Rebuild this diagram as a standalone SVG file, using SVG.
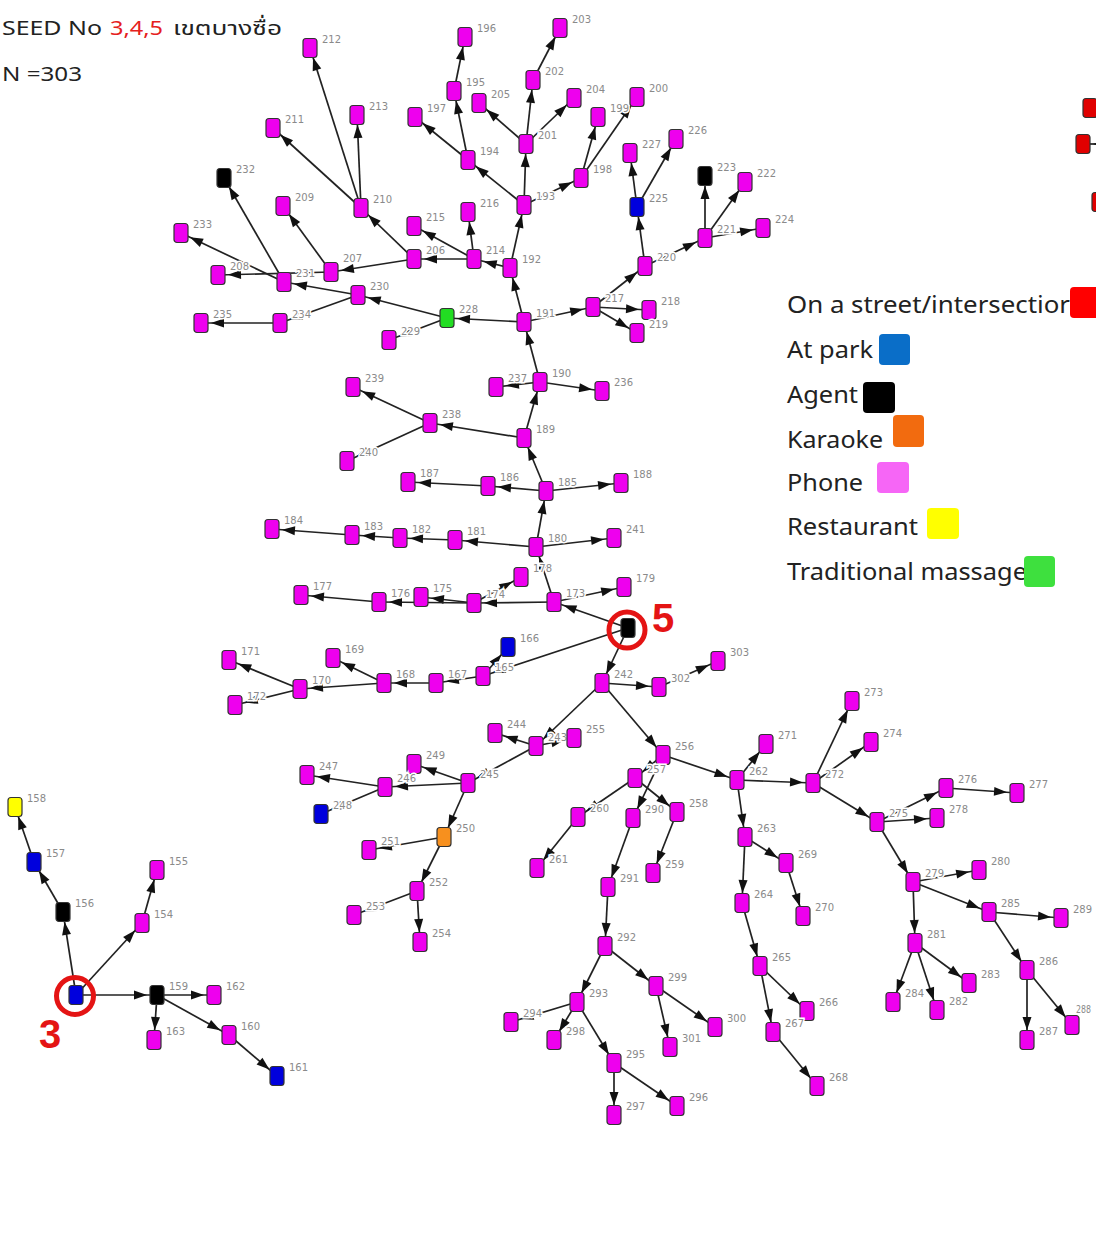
<svg xmlns="http://www.w3.org/2000/svg" xmlns:xlink="http://www.w3.org/1999/xlink" width="1096" height="1239" viewBox="0 0 1096 1239">
<style>
.nd use{stroke:#333;stroke-width:1.2}
.p{fill:#ee00ee}.b{fill:#0000dd}.k{fill:#000}.g{fill:#22dd22}.o{fill:#f7901e}.y{fill:#ffff00}.r{fill:#e00000}
.nd text{font-family:'DejaVu Sans',sans-serif;font-size:10px;fill:#8a8a8a;stroke:#fff;stroke-width:3;paint-order:stroke}
#edges line{stroke:#222;stroke-width:1.7;fill:none}
.lg{font-family:'Noto Sans','Open Sans',sans-serif;font-size:24px;fill:#222}
.ttl{font-family:'Noto Sans Thai','Noto Sans','DejaVu Sans',sans-serif;font-size:20px;fill:#222}
</style>
<defs>
<rect id="box" x="-7" y="-9.5" width="14" height="19" rx="3"/>
<marker id="ah" markerUnits="userSpaceOnUse" markerWidth="26" markerHeight="12" refX="23" refY="4.5" orient="auto" overflow="visible"><path d="M0,0 L13,4.5 L0,9 Z" fill="#111"/></marker>
</defs>
<rect width="1096" height="1239" fill="#fff"/>
<g id="title">
<text class="ttl" x="2" y="35" textLength="100" lengthAdjust="spacingAndGlyphs">SEED No</text>
<text class="ttl" x="110" y="35" textLength="53" lengthAdjust="spacingAndGlyphs" style="fill:#e52020">3,4,5</text>
<text class="ttl" x="173" y="35" textLength="109" lengthAdjust="spacingAndGlyphs">เขตบางซื่อ</text>
<text class="ttl" x="2" y="81" textLength="80" lengthAdjust="spacingAndGlyphs">N =303</text>
</g>
<g id="edges" marker-end="url(#ah)">
<line x1="76" y1="995" x2="63" y2="912"/>
<line x1="76" y1="995" x2="142" y2="923"/>
<line x1="76" y1="995" x2="157" y2="995"/>
<line x1="63" y1="912" x2="34" y2="862"/>
<line x1="34" y1="862" x2="15" y2="807"/>
<line x1="142" y1="923" x2="157" y2="870"/>
<line x1="157" y1="995" x2="214" y2="995"/>
<line x1="157" y1="995" x2="154" y2="1040"/>
<line x1="157" y1="995" x2="229" y2="1035"/>
<line x1="229" y1="1035" x2="277" y2="1076"/>
<line x1="628" y1="628" x2="554" y2="602"/>
<line x1="628" y1="628" x2="483" y2="676"/>
<line x1="628" y1="628" x2="602" y2="683"/>
<line x1="554" y1="602" x2="624" y2="587"/>
<line x1="554" y1="602" x2="474" y2="603"/>
<line x1="554" y1="602" x2="536" y2="547"/>
<line x1="474" y1="603" x2="521" y2="577"/>
<line x1="474" y1="603" x2="421" y2="597"/>
<line x1="474" y1="603" x2="379" y2="602"/>
<line x1="379" y1="602" x2="301" y2="595"/>
<line x1="536" y1="547" x2="455" y2="540"/>
<line x1="455" y1="540" x2="400" y2="538"/>
<line x1="400" y1="538" x2="352" y2="535"/>
<line x1="352" y1="535" x2="272" y2="529"/>
<line x1="536" y1="547" x2="614" y2="538"/>
<line x1="536" y1="547" x2="546" y2="491"/>
<line x1="546" y1="491" x2="488" y2="486"/>
<line x1="488" y1="486" x2="408" y2="482"/>
<line x1="546" y1="491" x2="621" y2="483"/>
<line x1="546" y1="491" x2="524" y2="438"/>
<line x1="524" y1="438" x2="430" y2="423"/>
<line x1="430" y1="423" x2="353" y2="387"/>
<line x1="430" y1="423" x2="347" y2="461"/>
<line x1="524" y1="438" x2="540" y2="382"/>
<line x1="540" y1="382" x2="496" y2="387"/>
<line x1="540" y1="382" x2="602" y2="391"/>
<line x1="540" y1="382" x2="524" y2="322"/>
<line x1="524" y1="322" x2="447" y2="318"/>
<line x1="447" y1="318" x2="358" y2="295"/>
<line x1="447" y1="318" x2="389" y2="340"/>
<line x1="358" y1="295" x2="284" y2="282"/>
<line x1="358" y1="295" x2="280" y2="323"/>
<line x1="280" y1="323" x2="201" y2="323"/>
<line x1="284" y1="282" x2="181" y2="233"/>
<line x1="284" y1="282" x2="224" y2="178"/>
<line x1="331" y1="272" x2="218" y2="275"/>
<line x1="524" y1="322" x2="510" y2="268"/>
<line x1="510" y1="268" x2="474" y2="259"/>
<line x1="474" y1="259" x2="414" y2="259"/>
<line x1="474" y1="259" x2="468" y2="212"/>
<line x1="474" y1="259" x2="414" y2="226"/>
<line x1="414" y1="259" x2="331" y2="272"/>
<line x1="414" y1="259" x2="361" y2="208"/>
<line x1="331" y1="272" x2="283" y2="206"/>
<line x1="361" y1="208" x2="273" y2="128"/>
<line x1="361" y1="208" x2="310" y2="48"/>
<line x1="361" y1="208" x2="357" y2="115"/>
<line x1="510" y1="268" x2="524" y2="205"/>
<line x1="524" y1="205" x2="468" y2="160"/>
<line x1="468" y1="160" x2="415" y2="117"/>
<line x1="468" y1="160" x2="454" y2="91"/>
<line x1="454" y1="91" x2="465" y2="37"/>
<line x1="524" y1="205" x2="526" y2="144"/>
<line x1="526" y1="144" x2="479" y2="103"/>
<line x1="526" y1="144" x2="533" y2="80"/>
<line x1="533" y1="80" x2="560" y2="28"/>
<line x1="526" y1="144" x2="574" y2="98"/>
<line x1="524" y1="205" x2="581" y2="178"/>
<line x1="581" y1="178" x2="598" y2="117"/>
<line x1="581" y1="178" x2="637" y2="97"/>
<line x1="524" y1="322" x2="593" y2="307"/>
<line x1="593" y1="307" x2="649" y2="310"/>
<line x1="593" y1="307" x2="637" y2="333"/>
<line x1="593" y1="307" x2="645" y2="266"/>
<line x1="645" y1="266" x2="637" y2="207"/>
<line x1="637" y1="207" x2="630" y2="153"/>
<line x1="637" y1="207" x2="676" y2="139"/>
<line x1="645" y1="266" x2="705" y2="238"/>
<line x1="705" y1="238" x2="705" y2="176"/>
<line x1="705" y1="238" x2="745" y2="182"/>
<line x1="705" y1="238" x2="763" y2="228"/>
<line x1="483" y1="676" x2="508" y2="647"/>
<line x1="483" y1="676" x2="436" y2="683"/>
<line x1="436" y1="683" x2="384" y2="683"/>
<line x1="384" y1="683" x2="333" y2="658"/>
<line x1="384" y1="683" x2="300" y2="689"/>
<line x1="300" y1="689" x2="229" y2="660"/>
<line x1="300" y1="689" x2="235" y2="705"/>
<line x1="602" y1="683" x2="659" y2="687"/>
<line x1="659" y1="687" x2="718" y2="661"/>
<line x1="602" y1="683" x2="536" y2="746"/>
<line x1="536" y1="746" x2="495" y2="733"/>
<line x1="536" y1="746" x2="574" y2="738"/>
<line x1="536" y1="746" x2="468" y2="783"/>
<line x1="468" y1="783" x2="414" y2="764"/>
<line x1="468" y1="783" x2="385" y2="787"/>
<line x1="385" y1="787" x2="307" y2="775"/>
<line x1="385" y1="787" x2="321" y2="814"/>
<line x1="468" y1="783" x2="444" y2="837"/>
<line x1="444" y1="837" x2="369" y2="850"/>
<line x1="444" y1="837" x2="417" y2="891"/>
<line x1="417" y1="891" x2="354" y2="915"/>
<line x1="417" y1="891" x2="420" y2="942"/>
<line x1="602" y1="683" x2="663" y2="755"/>
<line x1="663" y1="755" x2="635" y2="778"/>
<line x1="635" y1="778" x2="578" y2="817"/>
<line x1="578" y1="817" x2="537" y2="868"/>
<line x1="635" y1="778" x2="677" y2="812"/>
<line x1="677" y1="812" x2="653" y2="873"/>
<line x1="663" y1="755" x2="633" y2="818"/>
<line x1="633" y1="818" x2="608" y2="887"/>
<line x1="608" y1="887" x2="605" y2="946"/>
<line x1="605" y1="946" x2="577" y2="1002"/>
<line x1="577" y1="1002" x2="511" y2="1022"/>
<line x1="577" y1="1002" x2="554" y2="1040"/>
<line x1="577" y1="1002" x2="614" y2="1063"/>
<line x1="614" y1="1063" x2="614" y2="1115"/>
<line x1="614" y1="1063" x2="677" y2="1106"/>
<line x1="605" y1="946" x2="656" y2="986"/>
<line x1="656" y1="986" x2="670" y2="1047"/>
<line x1="656" y1="986" x2="715" y2="1027"/>
<line x1="663" y1="755" x2="737" y2="780"/>
<line x1="737" y1="780" x2="766" y2="744"/>
<line x1="737" y1="780" x2="813" y2="783"/>
<line x1="737" y1="780" x2="745" y2="837"/>
<line x1="745" y1="837" x2="742" y2="903"/>
<line x1="745" y1="837" x2="786" y2="863"/>
<line x1="786" y1="863" x2="803" y2="916"/>
<line x1="742" y1="903" x2="760" y2="966"/>
<line x1="760" y1="966" x2="807" y2="1011"/>
<line x1="760" y1="966" x2="773" y2="1032"/>
<line x1="773" y1="1032" x2="817" y2="1086"/>
<line x1="813" y1="783" x2="852" y2="701"/>
<line x1="813" y1="783" x2="871" y2="742"/>
<line x1="813" y1="783" x2="877" y2="822"/>
<line x1="877" y1="822" x2="946" y2="788"/>
<line x1="946" y1="788" x2="1017" y2="793"/>
<line x1="877" y1="822" x2="937" y2="818"/>
<line x1="877" y1="822" x2="913" y2="882"/>
<line x1="913" y1="882" x2="979" y2="870"/>
<line x1="913" y1="882" x2="989" y2="912"/>
<line x1="913" y1="882" x2="915" y2="943"/>
<line x1="915" y1="943" x2="893" y2="1002"/>
<line x1="915" y1="943" x2="937" y2="1010"/>
<line x1="915" y1="943" x2="969" y2="983"/>
<line x1="989" y1="912" x2="1061" y2="918"/>
<line x1="989" y1="912" x2="1027" y2="970"/>
<line x1="1027" y1="970" x2="1027" y2="1040"/>
<line x1="1027" y1="970" x2="1072" y2="1025"/>
<line x1="1112" y1="144" x2="1083" y2="144"/>
</g>
<g id="seeds" fill="none" stroke="#e41414" stroke-width="5">
<circle cx="75" cy="996" r="18.5"/>
<circle cx="627" cy="630" r="18"/>
</g>
<g id="nodes" class="nd">
<g id="n3" transform="translate(76,995)"><use href="#box" class="b"/></g>
<g id="n5" transform="translate(628,628)"><use href="#box" class="k"/></g>
<g id="n154" transform="translate(142,923)"><use href="#box" class="p"/><text x="12" y="-5">154</text></g>
<g id="n155" transform="translate(157,870)"><use href="#box" class="p"/><text x="12" y="-5">155</text></g>
<g id="n156" transform="translate(63,912)"><use href="#box" class="k"/><text x="12" y="-5">156</text></g>
<g id="n157" transform="translate(34,862)"><use href="#box" class="b"/><text x="12" y="-5">157</text></g>
<g id="n158" transform="translate(15,807)"><use href="#box" class="y"/><text x="12" y="-5">158</text></g>
<g id="n159" transform="translate(157,995)"><use href="#box" class="k"/><text x="12" y="-5">159</text></g>
<g id="n160" transform="translate(229,1035)"><use href="#box" class="p"/><text x="12" y="-5">160</text></g>
<g id="n161" transform="translate(277,1076)"><use href="#box" class="b"/><text x="12" y="-5">161</text></g>
<g id="n162" transform="translate(214,995)"><use href="#box" class="p"/><text x="12" y="-5">162</text></g>
<g id="n163" transform="translate(154,1040)"><use href="#box" class="p"/><text x="12" y="-5">163</text></g>
<g id="n165" transform="translate(483,676)"><use href="#box" class="p"/><text x="12" y="-5">165</text></g>
<g id="n166" transform="translate(508,647)"><use href="#box" class="b"/><text x="12" y="-5">166</text></g>
<g id="n167" transform="translate(436,683)"><use href="#box" class="p"/><text x="12" y="-5">167</text></g>
<g id="n168" transform="translate(384,683)"><use href="#box" class="p"/><text x="12" y="-5">168</text></g>
<g id="n169" transform="translate(333,658)"><use href="#box" class="p"/><text x="12" y="-5">169</text></g>
<g id="n170" transform="translate(300,689)"><use href="#box" class="p"/><text x="12" y="-5">170</text></g>
<g id="n171" transform="translate(229,660)"><use href="#box" class="p"/><text x="12" y="-5">171</text></g>
<g id="n172" transform="translate(235,705)"><use href="#box" class="p"/><text x="12" y="-5">172</text></g>
<g id="n173" transform="translate(554,602)"><use href="#box" class="p"/><text x="12" y="-5">173</text></g>
<g id="n174" transform="translate(474,603)"><use href="#box" class="p"/><text x="12" y="-5">174</text></g>
<g id="n175" transform="translate(421,597)"><use href="#box" class="p"/><text x="12" y="-5">175</text></g>
<g id="n176" transform="translate(379,602)"><use href="#box" class="p"/><text x="12" y="-5">176</text></g>
<g id="n177" transform="translate(301,595)"><use href="#box" class="p"/><text x="12" y="-5">177</text></g>
<g id="n178" transform="translate(521,577)"><use href="#box" class="p"/><text x="12" y="-5">178</text></g>
<g id="n179" transform="translate(624,587)"><use href="#box" class="p"/><text x="12" y="-5">179</text></g>
<g id="n180" transform="translate(536,547)"><use href="#box" class="p"/><text x="12" y="-5">180</text></g>
<g id="n181" transform="translate(455,540)"><use href="#box" class="p"/><text x="12" y="-5">181</text></g>
<g id="n182" transform="translate(400,538)"><use href="#box" class="p"/><text x="12" y="-5">182</text></g>
<g id="n183" transform="translate(352,535)"><use href="#box" class="p"/><text x="12" y="-5">183</text></g>
<g id="n184" transform="translate(272,529)"><use href="#box" class="p"/><text x="12" y="-5">184</text></g>
<g id="n241" transform="translate(614,538)"><use href="#box" class="p"/><text x="12" y="-5">241</text></g>
<g id="n185" transform="translate(546,491)"><use href="#box" class="p"/><text x="12" y="-5">185</text></g>
<g id="n186" transform="translate(488,486)"><use href="#box" class="p"/><text x="12" y="-5">186</text></g>
<g id="n187" transform="translate(408,482)"><use href="#box" class="p"/><text x="12" y="-5">187</text></g>
<g id="n188" transform="translate(621,483)"><use href="#box" class="p"/><text x="12" y="-5">188</text></g>
<g id="n189" transform="translate(524,438)"><use href="#box" class="p"/><text x="12" y="-5">189</text></g>
<g id="n238" transform="translate(430,423)"><use href="#box" class="p"/><text x="12" y="-5">238</text></g>
<g id="n239" transform="translate(353,387)"><use href="#box" class="p"/><text x="12" y="-5">239</text></g>
<g id="n240" transform="translate(347,461)"><use href="#box" class="p"/><text x="12" y="-5">240</text></g>
<g id="n190" transform="translate(540,382)"><use href="#box" class="p"/><text x="12" y="-5">190</text></g>
<g id="n237" transform="translate(496,387)"><use href="#box" class="p"/><text x="12" y="-5">237</text></g>
<g id="n236" transform="translate(602,391)"><use href="#box" class="p"/><text x="12" y="-5">236</text></g>
<g id="n191" transform="translate(524,322)"><use href="#box" class="p"/><text x="12" y="-5">191</text></g>
<g id="n228" transform="translate(447,318)"><use href="#box" class="g"/><text x="12" y="-5">228</text></g>
<g id="n229" transform="translate(389,340)"><use href="#box" class="p"/><text x="12" y="-5">229</text></g>
<g id="n230" transform="translate(358,295)"><use href="#box" class="p"/><text x="12" y="-5">230</text></g>
<g id="n231" transform="translate(284,282)"><use href="#box" class="p"/><text x="12" y="-5">231</text></g>
<g id="n232" transform="translate(224,178)"><use href="#box" class="k"/><text x="12" y="-5">232</text></g>
<g id="n233" transform="translate(181,233)"><use href="#box" class="p"/><text x="12" y="-5">233</text></g>
<g id="n208" transform="translate(218,275)"><use href="#box" class="p"/><text x="12" y="-5">208</text></g>
<g id="n234" transform="translate(280,323)"><use href="#box" class="p"/><text x="12" y="-5">234</text></g>
<g id="n235" transform="translate(201,323)"><use href="#box" class="p"/><text x="12" y="-5">235</text></g>
<g id="n192" transform="translate(510,268)"><use href="#box" class="p"/><text x="12" y="-5">192</text></g>
<g id="n214" transform="translate(474,259)"><use href="#box" class="p"/><text x="12" y="-5">214</text></g>
<g id="n206" transform="translate(414,259)"><use href="#box" class="p"/><text x="12" y="-5">206</text></g>
<g id="n207" transform="translate(331,272)"><use href="#box" class="p"/><text x="12" y="-10">207</text></g>
<g id="n209" transform="translate(283,206)"><use href="#box" class="p"/><text x="12" y="-5">209</text></g>
<g id="n210" transform="translate(361,208)"><use href="#box" class="p"/><text x="12" y="-5">210</text></g>
<g id="n211" transform="translate(273,128)"><use href="#box" class="p"/><text x="12" y="-5">211</text></g>
<g id="n212" transform="translate(310,48)"><use href="#box" class="p"/><text x="12" y="-5">212</text></g>
<g id="n213" transform="translate(357,115)"><use href="#box" class="p"/><text x="12" y="-5">213</text></g>
<g id="n215" transform="translate(414,226)"><use href="#box" class="p"/><text x="12" y="-5">215</text></g>
<g id="n216" transform="translate(468,212)"><use href="#box" class="p"/><text x="12" y="-5">216</text></g>
<g id="n193" transform="translate(524,205)"><use href="#box" class="p"/><text x="12" y="-5">193</text></g>
<g id="n194" transform="translate(468,160)"><use href="#box" class="p"/><text x="12" y="-5">194</text></g>
<g id="n195" transform="translate(454,91)"><use href="#box" class="p"/><text x="12" y="-5">195</text></g>
<g id="n196" transform="translate(465,37)"><use href="#box" class="p"/><text x="12" y="-5">196</text></g>
<g id="n197" transform="translate(415,117)"><use href="#box" class="p"/><text x="12" y="-5">197</text></g>
<g id="n201" transform="translate(526,144)"><use href="#box" class="p"/><text x="12" y="-5">201</text></g>
<g id="n205" transform="translate(479,103)"><use href="#box" class="p"/><text x="12" y="-5">205</text></g>
<g id="n202" transform="translate(533,80)"><use href="#box" class="p"/><text x="12" y="-5">202</text></g>
<g id="n203" transform="translate(560,28)"><use href="#box" class="p"/><text x="12" y="-5">203</text></g>
<g id="n204" transform="translate(574,98)"><use href="#box" class="p"/><text x="12" y="-5">204</text></g>
<g id="n198" transform="translate(581,178)"><use href="#box" class="p"/><text x="12" y="-5">198</text></g>
<g id="n199" transform="translate(598,117)"><use href="#box" class="p"/><text x="12" y="-5">199</text></g>
<g id="n200" transform="translate(637,97)"><use href="#box" class="p"/><text x="12" y="-5">200</text></g>
<g id="n217" transform="translate(593,307)"><use href="#box" class="p"/><text x="12" y="-5">217</text></g>
<g id="n218" transform="translate(649,310)"><use href="#box" class="p"/><text x="12" y="-5">218</text></g>
<g id="n219" transform="translate(637,333)"><use href="#box" class="p"/><text x="12" y="-5">219</text></g>
<g id="n220" transform="translate(645,266)"><use href="#box" class="p"/><text x="12" y="-5">220</text></g>
<g id="n225" transform="translate(637,207)"><use href="#box" class="b"/><text x="12" y="-5">225</text></g>
<g id="n227" transform="translate(630,153)"><use href="#box" class="p"/><text x="12" y="-5">227</text></g>
<g id="n226" transform="translate(676,139)"><use href="#box" class="p"/><text x="12" y="-5">226</text></g>
<g id="n221" transform="translate(705,238)"><use href="#box" class="p"/><text x="12" y="-5">221</text></g>
<g id="n223" transform="translate(705,176)"><use href="#box" class="k"/><text x="12" y="-5">223</text></g>
<g id="n222" transform="translate(745,182)"><use href="#box" class="p"/><text x="12" y="-5">222</text></g>
<g id="n224" transform="translate(763,228)"><use href="#box" class="p"/><text x="12" y="-5">224</text></g>
<g id="n242" transform="translate(602,683)"><use href="#box" class="p"/><text x="12" y="-5">242</text></g>
<g id="n302" transform="translate(659,687)"><use href="#box" class="p"/><text x="12" y="-5">302</text></g>
<g id="n303" transform="translate(718,661)"><use href="#box" class="p"/><text x="12" y="-5">303</text></g>
<g id="n243" transform="translate(536,746)"><use href="#box" class="p"/><text x="12" y="-5">243</text></g>
<g id="n244" transform="translate(495,733)"><use href="#box" class="p"/><text x="12" y="-5">244</text></g>
<g id="n255" transform="translate(574,738)"><use href="#box" class="p"/><text x="12" y="-5">255</text></g>
<g id="n245" transform="translate(468,783)"><use href="#box" class="p"/><text x="12" y="-5">245</text></g>
<g id="n249" transform="translate(414,764)"><use href="#box" class="p"/><text x="12" y="-5">249</text></g>
<g id="n246" transform="translate(385,787)"><use href="#box" class="p"/><text x="12" y="-5">246</text></g>
<g id="n247" transform="translate(307,775)"><use href="#box" class="p"/><text x="12" y="-5">247</text></g>
<g id="n248" transform="translate(321,814)"><use href="#box" class="b"/><text x="12" y="-5">248</text></g>
<g id="n250" transform="translate(444,837)"><use href="#box" class="o"/><text x="12" y="-5">250</text></g>
<g id="n251" transform="translate(369,850)"><use href="#box" class="p"/><text x="12" y="-5">251</text></g>
<g id="n252" transform="translate(417,891)"><use href="#box" class="p"/><text x="12" y="-5">252</text></g>
<g id="n253" transform="translate(354,915)"><use href="#box" class="p"/><text x="12" y="-5">253</text></g>
<g id="n254" transform="translate(420,942)"><use href="#box" class="p"/><text x="12" y="-5">254</text></g>
<g id="n256" transform="translate(663,755)"><use href="#box" class="p"/><text x="12" y="-5">256</text></g>
<g id="n257" transform="translate(635,778)"><use href="#box" class="p"/><text x="12" y="-5">257</text></g>
<g id="n258" transform="translate(677,812)"><use href="#box" class="p"/><text x="12" y="-5">258</text></g>
<g id="n259" transform="translate(653,873)"><use href="#box" class="p"/><text x="12" y="-5">259</text></g>
<g id="n260" transform="translate(578,817)"><use href="#box" class="p"/><text x="12" y="-5">260</text></g>
<g id="n261" transform="translate(537,868)"><use href="#box" class="p"/><text x="12" y="-5">261</text></g>
<g id="n290" transform="translate(633,818)"><use href="#box" class="p"/><text x="12" y="-5">290</text></g>
<g id="n291" transform="translate(608,887)"><use href="#box" class="p"/><text x="12" y="-5">291</text></g>
<g id="n292" transform="translate(605,946)"><use href="#box" class="p"/><text x="12" y="-5">292</text></g>
<g id="n293" transform="translate(577,1002)"><use href="#box" class="p"/><text x="12" y="-5">293</text></g>
<g id="n294" transform="translate(511,1022)"><use href="#box" class="p"/><text x="12" y="-5">294</text></g>
<g id="n298" transform="translate(554,1040)"><use href="#box" class="p"/><text x="12" y="-5">298</text></g>
<g id="n295" transform="translate(614,1063)"><use href="#box" class="p"/><text x="12" y="-5">295</text></g>
<g id="n297" transform="translate(614,1115)"><use href="#box" class="p"/><text x="12" y="-5">297</text></g>
<g id="n296" transform="translate(677,1106)"><use href="#box" class="p"/><text x="12" y="-5">296</text></g>
<g id="n299" transform="translate(656,986)"><use href="#box" class="p"/><text x="12" y="-5">299</text></g>
<g id="n300" transform="translate(715,1027)"><use href="#box" class="p"/><text x="12" y="-5">300</text></g>
<g id="n301" transform="translate(670,1047)"><use href="#box" class="p"/><text x="12" y="-5">301</text></g>
<g id="n262" transform="translate(737,780)"><use href="#box" class="p"/><text x="12" y="-5">262</text></g>
<g id="n263" transform="translate(745,837)"><use href="#box" class="p"/><text x="12" y="-5">263</text></g>
<g id="n264" transform="translate(742,903)"><use href="#box" class="p"/><text x="12" y="-5">264</text></g>
<g id="n265" transform="translate(760,966)"><use href="#box" class="p"/><text x="12" y="-5">265</text></g>
<g id="n266" transform="translate(807,1011)"><use href="#box" class="p"/><text x="12" y="-5">266</text></g>
<g id="n267" transform="translate(773,1032)"><use href="#box" class="p"/><text x="12" y="-5">267</text></g>
<g id="n268" transform="translate(817,1086)"><use href="#box" class="p"/><text x="12" y="-5">268</text></g>
<g id="n269" transform="translate(786,863)"><use href="#box" class="p"/><text x="12" y="-5">269</text></g>
<g id="n270" transform="translate(803,916)"><use href="#box" class="p"/><text x="12" y="-5">270</text></g>
<g id="n271" transform="translate(766,744)"><use href="#box" class="p"/><text x="12" y="-5">271</text></g>
<g id="n272" transform="translate(813,783)"><use href="#box" class="p"/><text x="12" y="-5">272</text></g>
<g id="n273" transform="translate(852,701)"><use href="#box" class="p"/><text x="12" y="-5">273</text></g>
<g id="n274" transform="translate(871,742)"><use href="#box" class="p"/><text x="12" y="-5">274</text></g>
<g id="n275" transform="translate(877,822)"><use href="#box" class="p"/><text x="12" y="-5">275</text></g>
<g id="n276" transform="translate(946,788)"><use href="#box" class="p"/><text x="12" y="-5">276</text></g>
<g id="n277" transform="translate(1017,793)"><use href="#box" class="p"/><text x="12" y="-5">277</text></g>
<g id="n278" transform="translate(937,818)"><use href="#box" class="p"/><text x="12" y="-5">278</text></g>
<g id="n279" transform="translate(913,882)"><use href="#box" class="p"/><text x="12" y="-5">279</text></g>
<g id="n280" transform="translate(979,870)"><use href="#box" class="p"/><text x="12" y="-5">280</text></g>
<g id="n281" transform="translate(915,943)"><use href="#box" class="p"/><text x="12" y="-5">281</text></g>
<g id="n282" transform="translate(937,1010)"><use href="#box" class="p"/><text x="12" y="-5">282</text></g>
<g id="n283" transform="translate(969,983)"><use href="#box" class="p"/><text x="12" y="-5">283</text></g>
<g id="n284" transform="translate(893,1002)"><use href="#box" class="p"/><text x="12" y="-5">284</text></g>
<g id="n285" transform="translate(989,912)"><use href="#box" class="p"/><text x="12" y="-5">285</text></g>
<g id="n286" transform="translate(1027,970)"><use href="#box" class="p"/><text x="12" y="-5">286</text></g>
<g id="n287" transform="translate(1027,1040)"><use href="#box" class="p"/><text x="12" y="-5">287</text></g>
<g id="n288" transform="translate(1072,1025)"><use href="#box" class="p"/><text x="4" y="-12" textLength="15" lengthAdjust="spacingAndGlyphs">288</text></g>
<g id="n289" transform="translate(1061,918)"><use href="#box" class="p"/><text x="12" y="-5">289</text></g>
<g id="nr1" transform="translate(1090,108)"><use href="#box" class="r"/></g>
<g id="nr2" transform="translate(1083,144)"><use href="#box" class="r"/></g>
<g id="nr3" transform="translate(1099,202)"><use href="#box" class="r"/></g>
</g>
<g id="seedlabels" font-family="'Liberation Sans',sans-serif" font-weight="bold" font-size="40" fill="#e41414">
<text x="39" y="1048">3</text>
<text x="652" y="632">5</text>
</g>
<g id="legend">
<text class="lg" x="787" y="313" textLength="283" lengthAdjust="spacingAndGlyphs">On a street/intersectior</text>
<rect x="1070" y="287" width="32" height="31" rx="4" fill="#ff0000"/>
<text class="lg" x="787" y="358" textLength="86" lengthAdjust="spacingAndGlyphs">At park</text>
<rect x="879" y="334" width="31" height="31" rx="4" fill="#0a6ec8"/>
<text class="lg" x="787" y="403" textLength="71" lengthAdjust="spacingAndGlyphs">Agent</text>
<rect x="863" y="382" width="32" height="31" rx="4" fill="#000"/>
<text class="lg" x="787" y="448" textLength="96" lengthAdjust="spacingAndGlyphs">Karaoke</text>
<rect x="893" y="415" width="31" height="32" rx="4" fill="#f26b0f"/>
<text class="lg" x="787" y="491" textLength="76" lengthAdjust="spacingAndGlyphs">Phone</text>
<rect x="877" y="462" width="32" height="31" rx="4" fill="#f666f6"/>
<text class="lg" x="787" y="535" textLength="131" lengthAdjust="spacingAndGlyphs">Restaurant</text>
<rect x="927" y="508" width="32" height="31" rx="4" fill="#ffff00"/>
<text class="lg" x="787" y="580" textLength="240" lengthAdjust="spacingAndGlyphs">Traditional massage</text>
<rect x="1024" y="556" width="31" height="31" rx="4" fill="#3ee03e"/>
</g>
</svg>
